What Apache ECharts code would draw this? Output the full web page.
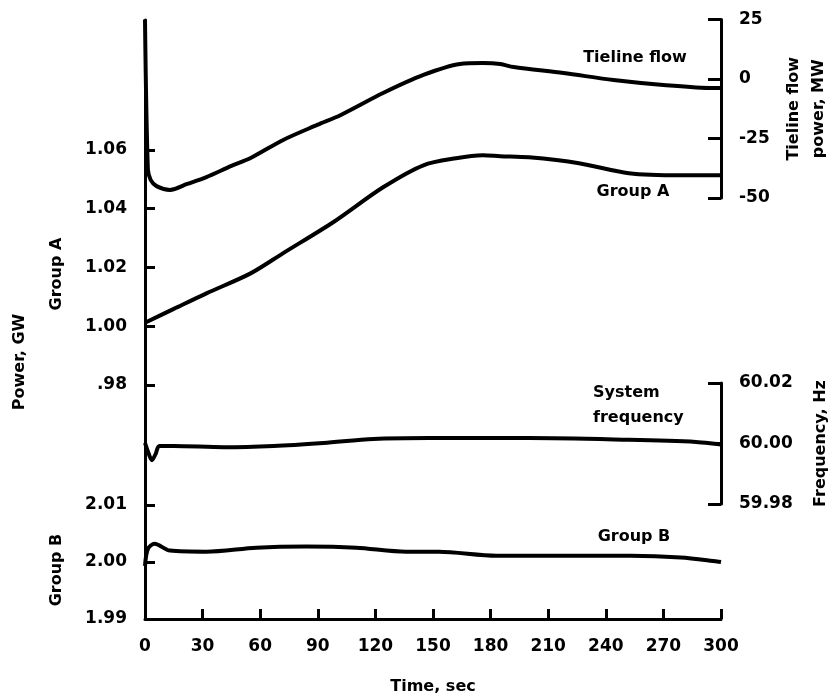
<!DOCTYPE html>
<html>
<head>
<meta charset="utf-8">
<script src="https://cdn.jsdelivr.net/npm/echarts@6/dist/echarts.min.js"></script>
<style>
  html, body { margin: 0; padding: 0; background: #fff; }
  #chart { width: 835px; height: 699px; }
</style>
</head>
<body>
<div id="chart"></div>
<script>
// values
var timeTicks = [0, 30, 60, 90, 120, 150, 180, 210, 240, 270, 300];
var groupATicks = [0.98, 1.00, 1.02, 1.04, 1.06];
var groupBTicks = [1.99, 2.00, 2.01];
var tielineTicks = [-50, -25, 0, 25];
var freqTicks = [59.98, 60.00, 60.02];

var tielineTime = [0, 1.5, 3, 6, 13, 22, 32, 45, 55, 72, 90, 102, 124, 145, 164, 176, 185, 192, 218, 244, 270, 296, 300];
var tielineMW = [25, -38, -42.5, -45, -46.6, -44.1, -41.2, -36.5, -33.2, -25.6, -19.2, -15.1, -5.9, 1.7, 6.3, 6.7, 6.3, 5.0, 2.5, -0.4, -2.5, -3.8, -3.8];

var groupATime = [0, 15, 32, 55, 72, 98, 124, 145, 162, 176, 185, 200, 226, 252, 279, 300];
var groupAGW = [1.0012, 1.0059, 1.0112, 1.0180, 1.0249, 1.0354, 1.0473, 1.0548, 1.0572, 1.0582, 1.0579, 1.0575, 1.0555, 1.0521, 1.0514, 1.0514];

var freqTime = [0, 2, 3.6, 5.5, 7.5, 15, 41, 67, 93, 119, 148, 200, 252, 287, 298, 300];
var freqHz = [60.0002, 59.9965, 59.9945, 59.9965, 59.9992, 59.9992, 59.9988, 59.9992, 60.0002, 60.0015, 60.0018, 60.0018, 60.0012, 60.0005, 59.9998, 59.9997];

var groupBTime = [0, 1.5, 5, 13, 32, 58, 84, 110, 136, 153, 183, 218, 253, 279, 298, 300];
var groupBGW = [1.9993, 2.0023, 2.0032, 2.0020, 2.0018, 2.0025, 2.0027, 2.0025, 2.0018, 2.0018, 2.0011, 2.0011, 2.0011, 2.0008, 2.0001, 2.0000];

function pairs(xs, ys) {
  return xs.map(function (x, i) { return [x, ys[i]]; });
}

// min/max of an axis so that value vA sits at pixel pA and vB at pB
function yRange(top, bottom, vA, pA, vB, pB) {
  var k = (vA - vB) / (pB - pA);
  return { min: vA - (bottom - pA) * k, max: vA + (pA - top) * k };
}

var FONT = 'DejaVu Sans';
var INK = '#000';
var plotTop = 20, plotBottom = 619;
var rangeA = yRange(plotTop, plotBottom, 1.06, 150, 0.98, 385);
var rangeB = yRange(plotTop, plotBottom, 2.01, 505, 1.99, 619);

var labelStyle = { color: INK, fontFamily: FONT, fontWeight: 'bold', fontSize: 17 };

function leftAxis(range, ticks, showLine) {
  return {
    type: 'value', gridIndex: 0, position: 'left',
    min: range.min, max: range.max,
    axisLine: { show: showLine, onZero: false, lineStyle: { color: INK, width: 3 } },
    axisTick: { show: true, inside: true, length: 10, customValues: ticks, lineStyle: { color: INK, width: 3 } },
    axisLabel: Object.assign({
      customValues: ticks, margin: 18,
      formatter: function (v) { return v.toFixed(2).replace(/^0\./, '.'); }
    }, labelStyle),
    splitLine: { show: false }
  };
}

function rightAxis(grid, min, max, ticks, fmt, name, gap) {
  return {
    type: 'value', gridIndex: grid, position: 'right',
    min: min, max: max,
    axisLine: { show: true, onZero: false, lineStyle: { color: INK, width: 3 } },
    axisTick: { show: true, inside: true, length: 13, customValues: ticks, lineStyle: { color: INK, width: 3 } },
    axisLabel: Object.assign({ customValues: ticks, margin: 18, formatter: fmt }, labelStyle),
    splitLine: { show: false },
    name: name, nameLocation: 'middle', nameGap: gap,
    nameTextStyle: { color: INK, fontFamily: FONT, fontWeight: 'bold', fontSize: 16, lineHeight: 25 }
  };
}

function hiddenX(grid) {
  return { type: 'value', gridIndex: grid, min: 0, max: 300, show: false, axisLine: { onZero: false } };
}

function curve(name, xi, yi, data) {
  return {
    name: name, type: 'line', xAxisIndex: xi, yAxisIndex: yi,
    data: data, showSymbol: false, smooth: 0.3, clip: false,
    lineStyle: { color: INK, width: 4 }
  };
}

function note(text, x, y, rot, align) {
  return {
    type: 'text', x: x, y: y, rotation: rot || 0,
    style: {
      text: text, fill: INK, font: 'bold 16px "' + FONT + '"',
      align: align || 'center', verticalAlign: 'middle', lineHeight: 25
    }
  };
}

var chart = echarts.init(document.getElementById('chart'));

// grids keep their pixel box (no shrinking to fit the axis names)
var option = {
  backgroundColor: '#fff',
  animation: false,
  grid: [
    { left: 145, right: 114, top: plotTop, height: plotBottom - plotTop, outerBoundsMode: 'none' },  // power, GW
    { left: 145, right: 114, top: 19.5, height: 178.5, outerBoundsMode: 'none' },                      // tieline bracket
    { left: 145, right: 114, top: 383, height: 121, outerBoundsMode: 'none' }                          // frequency bracket
  ],
  xAxis: [
    {
      type: 'value', gridIndex: 0, min: 0, max: 300, interval: 30,
      axisLine: { show: true, onZero: false, lineStyle: { color: INK, width: 3 } },
      axisTick: { show: true, inside: true, length: 10, lineStyle: { color: INK, width: 3 } },
      axisLabel: Object.assign({ margin: 19 }, labelStyle),
      splitLine: { show: false },
      name: 'Time, sec', nameLocation: 'middle', nameGap: 60,
      nameTextStyle: { color: INK, fontFamily: FONT, fontWeight: 'bold', fontSize: 16 }
    },
    hiddenX(1),
    hiddenX(2)
  ],
  yAxis: [
    leftAxis(rangeA, groupATicks, true),
    leftAxis(rangeB, groupBTicks, false),
    rightAxis(1, -50, 25, tielineTicks, function (v) { return String(v); }, 'Tieline flow\npower, MW', 60),
    rightAxis(2, 59.98, 60.02, freqTicks, function (v) { return v.toFixed(2); }, 'Frequency, Hz', 87)
  ],
  series: [
    curve('Group A', 0, 0, pairs(groupATime, groupAGW)),
    curve('Group B', 0, 1, pairs(groupBTime, groupBGW)),
    curve('Tieline flow', 1, 2, pairs(tielineTime, tielineMW)),
    curve('System frequency', 2, 3, pairs(freqTime, freqHz))
  ],
  graphic: [
    note('Tieline flow', 635, 58),
    note('Group A', 633, 192),
    note('System\nfrequency', 593, 405, 0, 'left'),
    note('Group B', 634, 537),
    note('Power, GW', 20, 362, Math.PI / 2),
    note('Group A', 57, 274, Math.PI / 2),
    note('Group B', 57, 570, Math.PI / 2)
  ]
};

chart.setOption(option);
</script>
</body>
</html>
